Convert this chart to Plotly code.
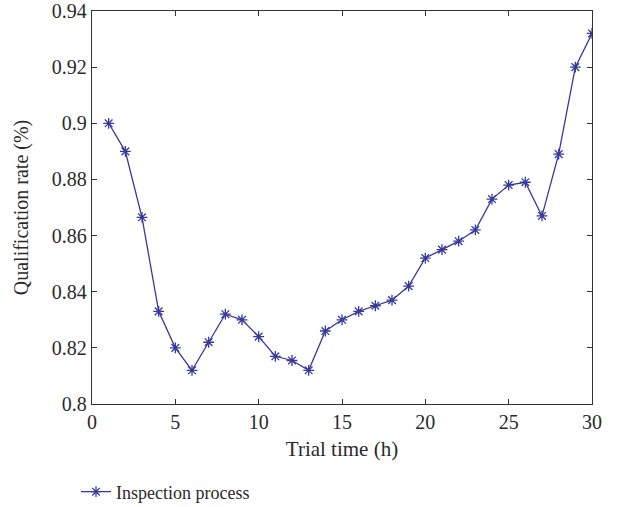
import plotly.graph_objects as go

trial_time = list(range(1, 31))
qualification_rate = [0.900, 0.890, 0.8665, 0.833, 0.820, 0.812, 0.822, 0.832, 0.830, 0.824,
                      0.817, 0.8155, 0.812, 0.826, 0.830, 0.833, 0.835, 0.837, 0.842, 0.852,
                      0.855, 0.858, 0.862, 0.873, 0.878, 0.879, 0.867, 0.889, 0.920, 0.932]
series_name = "Inspection process"

color = "#38389a"
font_family = "Liberation Serif"
text_color = "#2a2a2a"

fig = go.Figure()
fig.add_trace(go.Scatter(
    x=trial_time, y=qualification_rate, mode="lines+markers", name=series_name,
    line=dict(color=color, width=1.3),
    marker=dict(symbol="asterisk-open", size=9, color=color, line=dict(color=color, width=1.3)),
))

axis_common = dict(showline=True, mirror="ticks", ticks="inside", ticklen=5,
                   linecolor="#333333", linewidth=1.3, tickcolor="#333333", tickwidth=1.3,
                   showgrid=False, zeroline=False, automargin=False,
                   tickfont=dict(family=font_family, size=20, color=text_color))

fig.update_layout(
    width=617, height=507,
    margin=dict(l=92, r=25, t=11, b=103),
    plot_bgcolor="white", paper_bgcolor="white",
    font=dict(family=font_family, size=20, color=text_color),
    xaxis=dict(range=[0, 30], dtick=5, tick0=0,
               title=dict(text="Trial time (h)", font=dict(family=font_family, size=21, color=text_color), standoff=9),
               **axis_common),
    yaxis=dict(range=[0.8, 0.94], dtick=0.02, tick0=0.8,
               title=dict(text="Qualification rate (%)", font=dict(family=font_family, size=20, color=text_color), standoff=17),
               **axis_common),
    showlegend=True,
    legend=dict(xref="container", yref="container", x=76 / 617, y=(507 - 492) / 507,
                xanchor="left", yanchor="middle", orientation="h",
                font=dict(family=font_family, size=18, color=text_color),
                bgcolor="rgba(0,0,0,0)"),
)

fig.write_html("out.html")
